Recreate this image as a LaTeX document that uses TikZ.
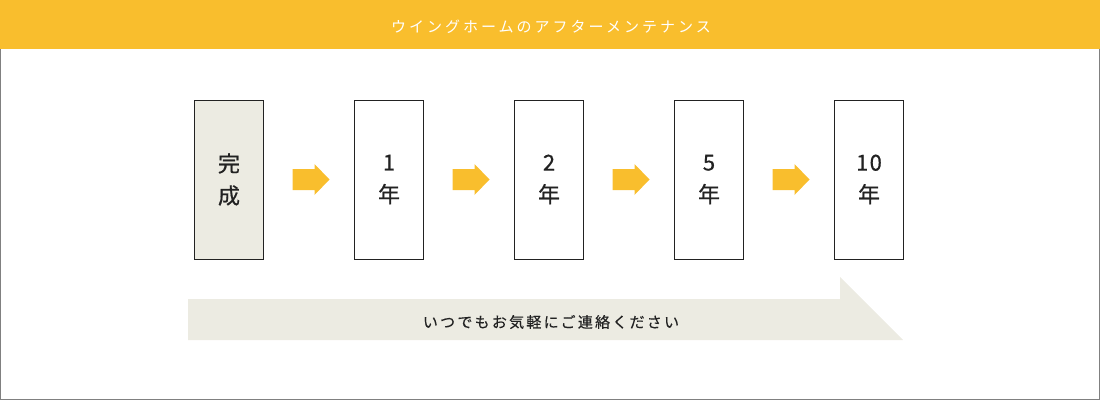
\documentclass[tikz,border=0pt]{standalone}
\usepackage{fontspec}
\usetikzlibrary{calc}
\newfontfamily\jp{Noto Sans CJK JP}[FakeBold=0.6, LetterSpace=6]
\newfontfamily\jpwide{Noto Sans CJK JP}[LetterSpace=20]
\newfontfamily\jpnote{Noto Sans CJK JP}[LetterSpace=15, FakeBold=0.3]
\definecolor{wingyellow}{HTML}{F9BE2D}
\definecolor{wingbeige}{HTML}{ECEBE2}
\definecolor{wingink}{HTML}{222222}
\definecolor{winggray}{HTML}{808080}

\begin{document}
\begin{tikzpicture}[
    x=1pt, y=-1pt,
    stage/.style={draw=wingink, line width=1pt, minimum width=69pt, minimum height=159pt,
      inner sep=0pt, align=center, text=wingink, font=\jp\fontsize{22}{32}\selectfont},
    done/.style={stage, fill=wingbeige},
    flow/.style={fill=wingyellow},
    every node/.style={text=wingink}
]
\useasboundingbox (0,0) rectangle (1100,400);

% header
\fill[wingyellow] (0,0) rectangle (1100,49);
\node[text=white, font=\jpwide\fontsize{15}{18}\selectfont] (title) at (551,27) {ウイングホームのアフターメンテナンス};
\draw[winggray, line width=1pt] (0.5,49) -- (0.5,399.5) -- (1099.5,399.5) -- (1099.5,49);

% steps
\node[done] (s0) at (229,179.5) {完\\成};
\node[stage] (s1) at (389,179.5) {1\\年};
\node[stage] (s2) at (549,179.5) {2\\年};
\node[stage] (s3) at (709,179.5) {5\\年};
\node[stage] (s4) at (869,179.5) {10\\年};

\foreach \a/\b in {s0/s1, s1/s2, s2/s3, s3/s4}{
  \coordinate (m) at ($(\a.east)!0.5!(\b.west)$);
  \fill[flow] ([shift={(-16.5,-10.5)}]m) -- ++(22,0) -- ++(0,-5) -- ++(15,15.5)
    -- ++(-15,15.5) -- ++(0,-5) -- ++(-22,0) -- cycle;
}

% bottom band
\fill[wingbeige] (188,299) -- (840,299) -- (840,277) -- (903,340) -- (188,340) -- cycle;
\node[font=\jpnote\fontsize{15}{18}\selectfont] (contact) at (551,322) {いつでもお気軽にご連絡ください};
\end{tikzpicture}
\end{document}
